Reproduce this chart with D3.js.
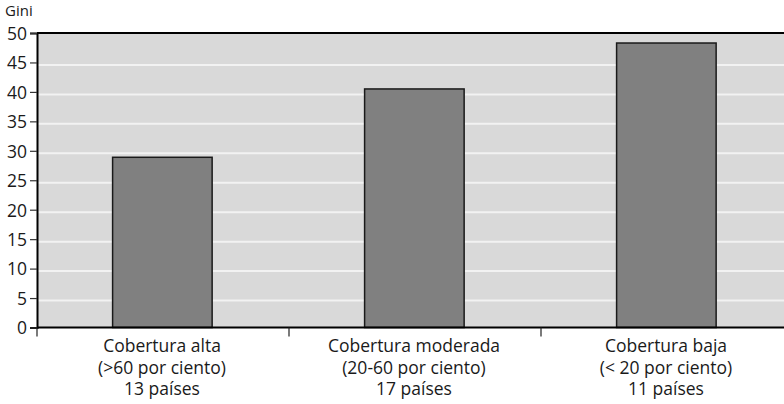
<!DOCTYPE html>
<html><head><meta charset="utf-8">
<script src="https://cdn.jsdelivr.net/npm/d3@7"></script>
<style>body{margin:0;background:#fff}svg{display:block}text{font-family:"Open Sans",sans-serif;fill:#1a1a1a}</style>
</head><body><svg id="c" width="784" height="404"></svg>
<script>
const categories = [
  ["Cobertura alta", "(>60 por ciento)", "13 países"],
  ["Cobertura moderada", "(20-60 por ciento)", "17 países"],
  ["Cobertura baja", "(< 20 por ciento)", "11 países"]
];
const giniValues = [28.9, 40.5, 48.3];
const yTicks = [0, 5, 10, 15, 20, 25, 30, 35, 40, 45, 50];
const yTitle = "Gini";

(function () {
const svg = d3.select("#c");
const mL = 37, mR = 793, mT = 33, mB = 327.5;
const xb = d3.scaleBand().domain(d3.range(categories.length)).range([mL, mR]);
const y = d3.scaleLinear().domain([0, 50]).range([mB, mT]);

svg.append("rect").attr("x", mL).attr("y", mT).attr("width", mR - mL).attr("height", mB - mT).attr("fill", "#d9d9d9");

svg.append("g").selectAll("line").data(yTicks.filter(d => d > 0 && d < 50)).join("line")
  .attr("x1", mL).attr("x2", mR).attr("y1", d => y(d) + 2.5).attr("y2", d => y(d) + 2.5)
  .attr("stroke", "#f2f2f2").attr("stroke-width", 2);

svg.append("g").selectAll("rect").data(giniValues).join("rect")
  .attr("x", (d, i) => xb(i) + xb.bandwidth() * 0.3)
  .attr("width", xb.bandwidth() * 0.395)
  .attr("y", d => y(d)).attr("height", d => mB - y(d))
  .attr("fill", "#808080").attr("stroke", "#1a1a1a").attr("stroke-width", 1.5);

svg.append("line").attr("x1", mL).attr("x2", mR).attr("y1", mT).attr("y2", mT).attr("stroke", "#000").attr("stroke-width", 2);

const ya = svg.append("g").attr("transform", `translate(${mL},0)`)
  .call(d3.axisLeft(y).tickValues(yTicks).tickSize(7).tickPadding(3));
ya.attr("font-size", null).attr("font-family", null);
ya.select(".domain").attr("stroke", "#000").attr("stroke-width", 2);
ya.selectAll(".tick line").attr("stroke", "#333").attr("stroke-width", 1.2);
ya.selectAll("text").style("font-size", "17.5px").attr("fill", "#1a1a1a").attr("dy", "0.36em");

const xa = svg.append("g").attr("transform", `translate(0,${mB})`);
xa.append("line").attr("x1", mL).attr("x2", mR).attr("stroke", "#000").attr("stroke-width", 2);
xa.selectAll("line.t").data(d3.range(categories.length)).join("line").attr("class", "t")
  .attr("x1", i => xb(i)).attr("x2", i => xb(i)).attr("y1", 0).attr("y2", 9).attr("stroke", "#222").attr("stroke-width", 1.2);
const lab = xa.selectAll("text").data(categories).join("text")
  .attr("text-anchor", "middle").style("font-size", "17.5px");
lab.each(function(lines, i) {
  d3.select(this).selectAll("tspan").data(lines).join("tspan")
    .attr("x", xb(i) + xb.bandwidth() / 2 - 1).attr("y", (d, j) => 24.5 + j * 21.7).text(d => d);
});

svg.append("text").attr("x", 5).attr("y", 16).style("font-size", "15px").text(yTitle);
})();
</script></body></html>
